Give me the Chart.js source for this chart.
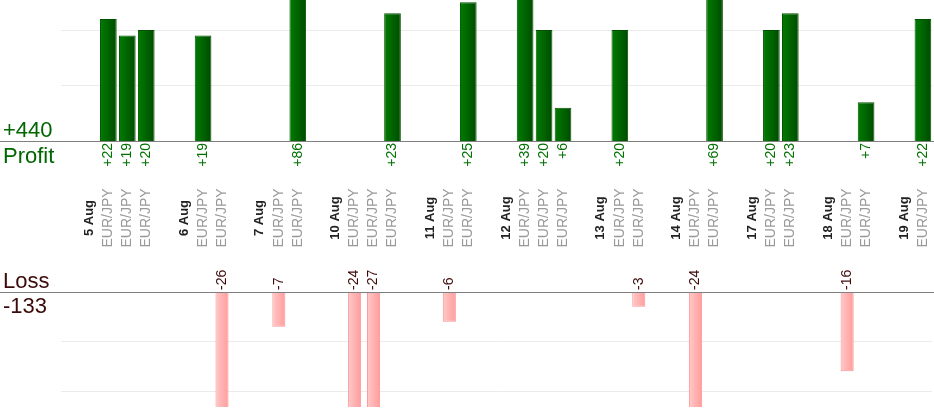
<!DOCTYPE html>
<html lang="en">
<head>
  <meta charset="UTF-8">
  <title>Profit / Loss per trade</title>
  <script src="https://cdn.jsdelivr.net/npm/chart.js"></script>
  <style>
    html, body { margin: 0; padding: 0; background: #fff; }
    #wrap { position: relative; width: 934px; height: 420px; }
  </style>
</head>
<body>
  <div id="wrap"><canvas id="pnlChart"></canvas></div>

  <script>
    // one slot per trade, one slot for each day label, an empty slot between days
    const slotLabels = [
      '', '5 Aug', 'EUR/JPY', 'EUR/JPY', 'EUR/JPY',
      '', '6 Aug', 'EUR/JPY', 'EUR/JPY',
      '', '7 Aug', 'EUR/JPY', 'EUR/JPY',
      '', '10 Aug', 'EUR/JPY', 'EUR/JPY', 'EUR/JPY',
      '', '11 Aug', 'EUR/JPY', 'EUR/JPY',
      '', '12 Aug', 'EUR/JPY', 'EUR/JPY', 'EUR/JPY',
      '', '13 Aug', 'EUR/JPY', 'EUR/JPY',
      '', '14 Aug', 'EUR/JPY', 'EUR/JPY',
      '', '17 Aug', 'EUR/JPY', 'EUR/JPY',
      '', '18 Aug', 'EUR/JPY', 'EUR/JPY',
      '', '19 Aug', 'EUR/JPY'
    ];
    const profitValues = [
      null, null, 22, 19, 20,
      null, null, 19, null,
      null, null, null, 86,
      null, null, null, null, 23,
      null, null, null, 25,
      null, null, 39, 20, 6,
      null, null, 20, null,
      null, null, null, 69,
      null, null, 20, 23,
      null, null, null, 7,
      null, null, 22
    ];
    const lossValues = [
      null, null, null, null, null,
      null, null, null, -26,
      null, null, -7, null,
      null, null, -24, -27, null,
      null, null, -6, null,
      null, null, null, null, null,
      null, null, null, -3,
      null, null, -24, null,
      null, null, null, null,
      null, null, -16, null,
      null, null, null
    ];
    const profitGrid = [10, 20];
    const lossGrid = [-10, -20];

    const FONT = '"Liberation Sans", Arial, sans-serif';
    const totalProfit = profitValues.reduce((a, v) => a + (v || 0), 0);
    const totalLoss = lossValues.reduce((a, v) => a + (v || 0), 0);

    // horizontal gradient across each bar
    function barGradient(ctx, left, right) {
      const chart = ctx.chart;
      const x = chart.scales.x;
      if (ctx.type !== 'data' || !chart.chartArea || !x) return right;
      const cx = x.getPixelForValue(ctx.dataIndex);
      const half = x.width / slotLabels.length * ctx.dataset.barPercentage / 2;
      const g = chart.ctx.createLinearGradient(cx - half, 0, cx + half, 0);
      g.addColorStop(0, left);
      g.addColorStop(1, right);
      return g;
    }

    function rotatedText(c, text, x, y, align, font, color) {
      c.save();
      c.translate(x, y);
      c.rotate(-Math.PI / 2);
      c.font = font;
      c.fillStyle = color;
      c.textAlign = align;
      c.textBaseline = 'middle';
      c.fillText(text, 0, 0);
      c.restore();
    }

    const pnlLabels = {
      id: 'pnlLabels',
      afterDatasetsDraw(chart) {
        const c = chart.ctx;
        const x = chart.scales.x;
        const p0 = chart.scales.yProfit.getPixelForValue(0);
        const l0 = chart.scales.yLoss.getPixelForValue(0);

        c.save();
        // zero lines run the full width
        c.strokeStyle = '#808080';
        c.lineWidth = 1;
        c.beginPath();
        c.moveTo(0, Math.round(p0) + 0.5);
        c.lineTo(chart.width, Math.round(p0) + 0.5);
        c.moveTo(0, Math.round(l0) + 0.5);
        c.lineTo(chart.width, Math.round(l0) + 0.5);
        c.stroke();

        // totals
        c.font = '22px ' + FONT;
        c.textAlign = 'left';
        c.textBaseline = 'alphabetic';
        c.fillStyle = '#006600';
        c.fillText('+' + totalProfit, 3, p0 - 4);
        c.fillText('Profit', 3, p0 + 22);
        c.fillStyle = '#3d0a0a';
        c.fillText('Loss', 3, l0 - 4);
        c.fillText(String(totalLoss), 3, l0 + 21);
        c.restore();

        slotLabels.forEach((lab, i) => {
          const cx = x.getPixelForValue(i);
          if (profitValues[i] != null) {
            rotatedText(c, '+' + profitValues[i], cx, p0 + 2, 'right', '14px ' + FONT, '#007000');
          }
          if (lossValues[i] != null) {
            rotatedText(c, String(lossValues[i]), cx, l0 - 2, 'left', '14px ' + FONT, '#3d0a0a');
          }
          if (lab === 'EUR/JPY') {
            rotatedText(c, lab, cx, 218, 'center', '14px ' + FONT, '#999999');
          } else if (lab) {
            rotatedText(c, lab, cx, 218, 'center', 'bold 13px ' + FONT, '#222222');
          }
        });
      }
    };

    const gridOf = (values) => ({
      display: true,
      ticks: { display: false },
      border: { display: false },
      grid: { color: '#ebebeb', lineWidth: 1, drawTicks: false },
      afterBuildTicks: (s) => { s.ticks = values.map(v => ({ value: v })); },
      afterFit: (s) => { s.width = 0; }
    });

    new Chart(document.getElementById('pnlChart'), {
      type: 'bar',
      data: {
        labels: slotLabels,
        datasets: [
          {
            label: 'Profit',
            data: profitValues,
            yAxisID: 'yProfit',
            grouped: false,
            clip: 0,
            barPercentage: 0.88,
            categoryPercentage: 1,
            backgroundColor: (ctx) => barGradient(ctx, '#007c00', '#004b00'),
            borderColor: '#005200',
            borderWidth: 1
          },
          {
            label: 'Loss',
            data: lossValues,
            yAxisID: 'yLoss',
            grouped: false,
            clip: 0,
            barPercentage: 0.69,
            categoryPercentage: 1,
            backgroundColor: (ctx) => barGradient(ctx, '#ffc8c8', '#ff9c9c'),
            borderColor: '#ff9494',
            borderWidth: 1
          }
        ]
      },
      options: {
        responsive: true,
        maintainAspectRatio: false,
        animation: false,
        layout: { padding: { left: 61, right: 1.6, top: 0, bottom: 13 } },
        plugins: { legend: { display: false }, tooltip: { enabled: false } },
        scales: {
          x: { display: false },
          yProfit: Object.assign({ position: 'left', min: -47.93, max: 25.41 }, gridOf(profitGrid)),
          yLoss: Object.assign({ position: 'right', min: -23.23, max: 58.99 }, gridOf(lossGrid))
        }
      },
      plugins: [pnlLabels]
    });
  </script>
</body>
</html>
